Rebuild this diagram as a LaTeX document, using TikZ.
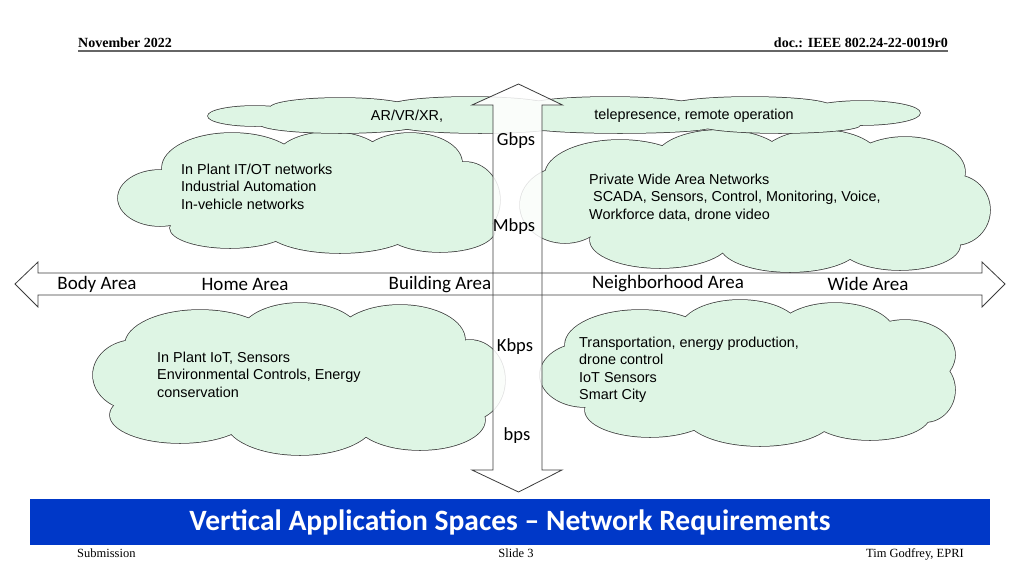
\documentclass[tikz,border=0pt]{standalone}
\usepackage{fontspec}
\setmainfont{Liberation Serif}
\newfontfamily\arialf{Liberation Sans}
\newfontfamily\calibrif{Carlito}
\definecolor{cloudfill}{RGB}{222,245,228}
\definecolor{banner}{RGB}{0,56,200}
\definecolor{edge}{RGB}{60,60,60}
% #1 core ellipses cx/cy/rx/ry, #2 list of puffs cx/cy/rx/ry
\newcommand{\cloudpuffs}[2]{%
  \foreach \pa/\pb/\pc/\pd in {#2}{\draw[edge, line width=1.5pt] (\pa,\pb) ellipse [x radius=\pc, y radius=\pd];}%
  \foreach \pa/\pb/\pc/\pd in {#2}{\fill[cloudfill] (\pa,\pb) ellipse [x radius=\pc, y radius=\pd];}%
  \foreach \pa/\pb/\pc/\pd in {#1}{\fill[cloudfill] (\pa,\pb) ellipse [x radius=\pc, y radius=\pd];}%
}
\begin{document}
\begin{tikzpicture}[x=1pt,y=-1pt,
  cloudtext/.style={font=\arialf\fontsize{14.4}{17.2}\selectfont, align=left, anchor=north west, inner sep=0pt},
  axislabel/.style={font=\calibrif\fontsize{19}{21}\selectfont, inner sep=0pt},
  ratelabel/.style={font=\calibrif\fontsize{18.5}{21}\selectfont, inner sep=0pt},
  hdr/.style={font=\bfseries\fontsize{14}{16}\selectfont, inner sep=0pt},
  ftr/.style={font=\fontsize{12.5}{14}\selectfont, inner sep=0pt},
  arrowline/.style={draw=edge, line width=0.8pt, line join=miter}]
\useasboundingbox (0,0) rectangle (1024,576);
\fill[white] (0,0) rectangle (1024,576);

% header
\node[hdr, anchor=base west] (hdate) at (78,47) {November 2022};
\node[hdr, anchor=base east] (hdoc) at (948,47) {doc.: IEEE 802.24-22-0019r0};
\draw[gray!80!black, line width=1.5pt] (78,51) -- (948,51);

% upper-left cloud
\cloudpuffs{310/195/150/40}{232/168/70/35, 330/160/55/28, 410/163/52/30, 465/200/35/38, 440/230/55/22, 340/228/75/25, 230/228/60/20, 160/198/42/28}
% upper-right cloud
\cloudpuffs{755/205/190/45}{620/175/75/35, 720/160/65/30, 820/160/60/30, 905/172/60/35, 955/210/35/35, 900/245/60/25, 790/245/70/27, 660/240/70/28, 565/205/45/38}
% top flat cloud
\cloudpuffs{564/116/320/10}{255/116/47/10, 340/108/70/10, 470/106/80/9, 610/105/80/8, 750/106/80/9, 862/113/58/12, 340/124/80/9, 480/126/80/7, 620/127/90/6, 780/125/80/8}
% lower-left cloud
\cloudpuffs{299/380/165/45}{200/345/75/35, 300/335/60/32, 400/340/65/35, 470/380/35/40, 420/420/65/30, 300/420/75/35, 180/415/70/28, 135/375/42/35}
% lower-right cloud
\cloudpuffs{748/375/170/42}{640/345/75/35, 740/330/60/30, 835/335/60/32, 905/355/50/35, 925/390/30/32, 870/415/60/25, 760/415/75/31, 650/410/65/27, 585/375/45/32}

% cloud texts
\node[font=\arialf\fontsize{14.4}{17}\selectfont, inner sep=0pt] (tAR) at (407,116) {AR/VR/XR,};
\node[font=\arialf\fontsize{14.4}{17}\selectfont, inner sep=0pt] (tTel) at (694,116) {telepresence, remote operation};
\node[cloudtext] (tUL) at (181,164) {In Plant IT/OT networks\\Industrial Automation\\In-vehicle networks};
\node[cloudtext] (tUR) at (589,174) {Private Wide Area Networks\\\ SCADA, Sensors, Control, Monitoring, Voice,\\Workforce data, drone video};
\node[cloudtext] (tLL) at (157,352) {In Plant IoT, Sensors\\Environmental Controls, Energy\\conservation};
\node[cloudtext] (tLR) at (579,337) {Transportation, energy production,\\drone control\\IoT Sensors\\Smart City};

% arrows: fills
\fill[white, opacity=0.85] (493,470) -- (493,105) -- (472,105) -- (518.5,84) -- (562.5,105) -- (542,105) -- (542,470) -- (562,470) -- (518.5,492) -- (472,470) -- cycle;
\fill[white] (38,273) -- (982,273) -- (982,295) -- (38,295) -- cycle;
% outlines
\draw[arrowline] (38,273) -- (982,273) -- (982,262) -- (1005,284) -- (982,307) -- (982,295) -- (38,295) -- (38,307) -- (15,284) -- (38,262) -- cycle;
\draw[arrowline] (493,470) -- (493,105) -- (472,105) -- (518.5,84) -- (562.5,105) -- (542,105) -- (542,470) -- (562,470) -- (518.5,492) -- (472,470) -- cycle;

% axis labels
\node[axislabel] (lBody) at (97,284) {Body Area};
\node[axislabel] (lHome) at (245,284) {Home Area};
\node[axislabel] (lBuild) at (440,285) {Building Area};
\node[axislabel] (lNeigh) at (668,284) {Neighborhood Area};
\node[axislabel] (lWide) at (868,284) {Wide Area};
\node[ratelabel] (lG) at (516,141) {Gbps};
\node[ratelabel] (lM) at (514,227) {Mbps};
\node[ratelabel] (lK) at (515,347) {Kbps};
\node[ratelabel] (lb) at (517,436) {bps};

% banner
\fill[banner] (30,499) rectangle (990,545);
\node[font=\calibrif\bfseries\fontsize{29.5}{32}\selectfont, text=white, inner sep=0pt] (title) at (510,522) {Vertical Application Spaces – Network Requirements};

% footer
\node[ftr, anchor=base west] (fsub) at (77,557) {Submission};
\node[ftr] (fslide) at (516,553) {Slide 3};
\node[ftr, anchor=base east] (fauth) at (964,557) {Tim Godfrey, EPRI};
\end{tikzpicture}
\end{document}
